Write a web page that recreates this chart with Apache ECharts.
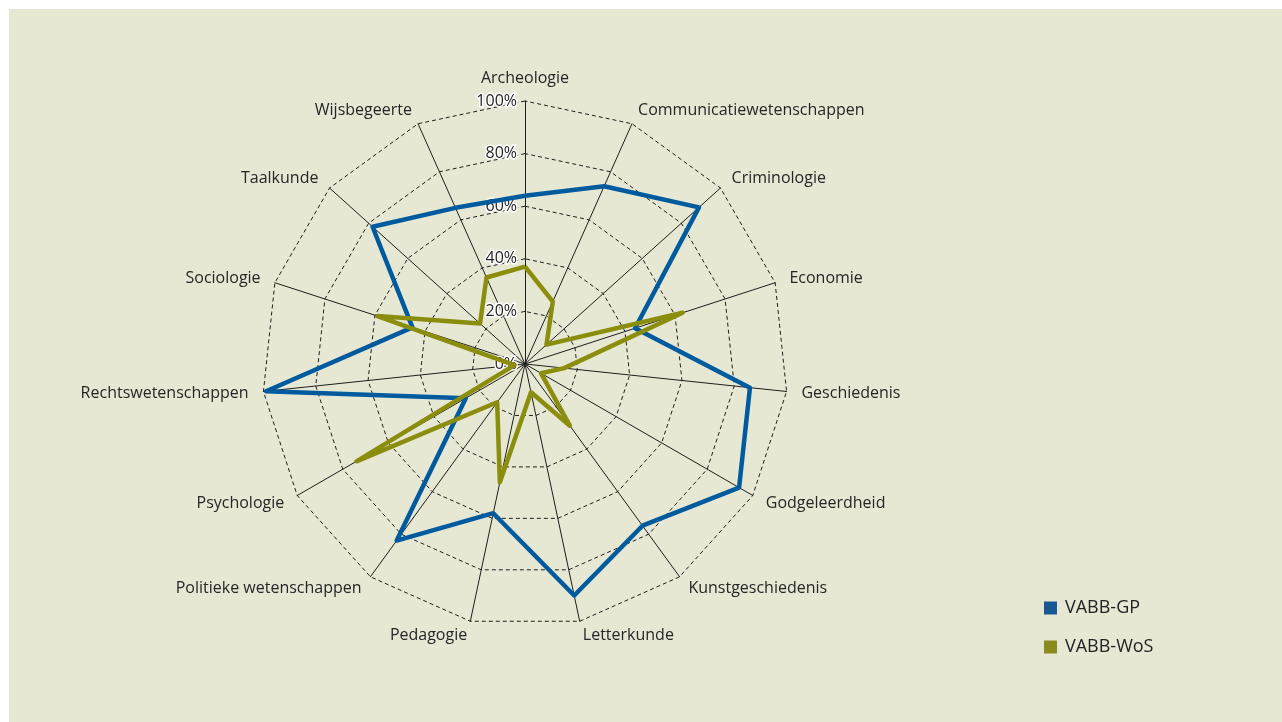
<!DOCTYPE html>
<html>
<head>
<meta charset="utf-8">
<script src="https://cdn.jsdelivr.net/npm/echarts@6/dist/echarts.min.js"></script>
<style>
html,body{margin:0;padding:0;background:#ffffff;width:1282px;height:722px;overflow:hidden;}
#chart{position:absolute;left:9px;top:9px;width:1273px;height:713px;background:#e6e8d4;}
</style>
</head>
<body>
<div id="chart"></div>
<script>
// categories in clockwise order starting at the top
const categories = ['Archeologie','Communicatiewetenschappen','Criminologie','Economie','Geschiedenis','Godgeleerdheid','Kunstgeschiedenis','Letterkunde','Pedagogie','Politieke wetenschappen','Psychologie','Rechtswetenschappen','Sociologie','Taalkunde','Wijsbegeerte'];
const vabbGP  = [64, 74, 89, 44, 86, 94, 76, 90, 58, 83, 26, 99, 45, 78, 65];
const vabbWoS = [37, 26, 11, 63, 15, 7, 29, 11, 46, 18, 74, 4, 59, 23, 36];
const seriesNames = ['VABB-GP', 'VABB-WoS'];
const tickMax = 100;

// ECharts draws radar axes counter-clockwise; reorder to get clockwise layout
function cw(arr) { return [arr[0]].concat(arr.slice(1).reverse()); }

const font = 'Open Sans';
const indicators = cw(categories).map((name, i) => {
  const ind = { name: name, max: tickMax, min: 0 };
  if (i === 0) {
    ind.axisLabel = {
      show: true, fontSize: 16, fontFamily: font, color: '#262626',
      textBorderColor: '#ffffff', textBorderWidth: 3,
      formatter: '{value}%', margin: 8, padding: [0, 0, 2, 0]
    };
  }
  return ind;
});

const chart = echarts.init(document.getElementById('chart'));
chart.setOption({
  animation: false,
  backgroundColor: '#e6e8d4',
  legend: {
    orient: 'vertical',
    left: 1035, top: 590,
    padding: 0,
    itemWidth: 13, itemHeight: 13, itemGap: 21,
    icon: 'rect',
    textStyle: { fontFamily: font, fontSize: 18, color: '#222', padding: [0, 0, 0, 3] },
    data: seriesNames
  },
  radar: {
    center: [516, 355],
    radius: 263,
    startAngle: 90,
    splitNumber: 5,
    shape: 'polygon',
    indicator: indicators,
    axisName: { color: '#262626', fontFamily: font, fontSize: 16 },
    nameGap: 15,
    axisLine: { lineStyle: { color: '#1e1e1e', width: 1 } },
    splitLine: { lineStyle: { color: '#1e1e1e', width: 1, type: [4, 3] } },
    splitArea: { show: false },
    axisTick: { show: false },
    axisLabel: { show: false }
  },
  series: [{
    type: 'radar',
    symbol: 'none',
    data: [
      { name: seriesNames[0], value: cw(vabbGP),
        lineStyle: { color: '#005b9e', width: 4.5 }, itemStyle: { color: '#1a5a94' } },
      { name: seriesNames[1], value: cw(vabbWoS),
        lineStyle: { color: '#8b8d0c', width: 4.5 }, itemStyle: { color: '#8a8b1e' } }
    ]
  }]
});
</script>
</body>
</html>
